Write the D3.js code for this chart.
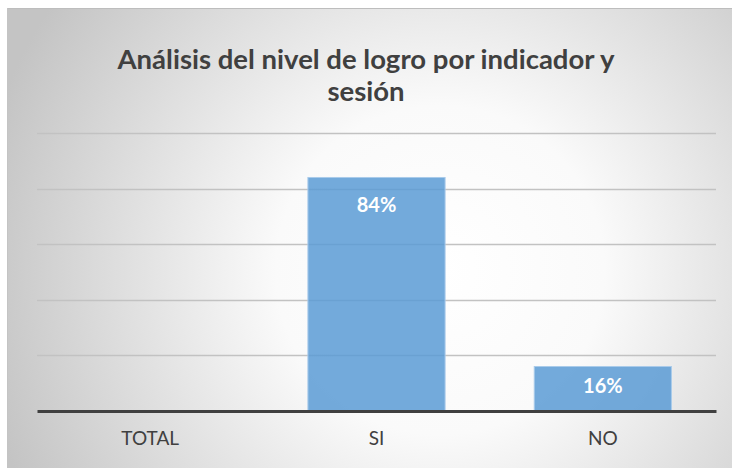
<!DOCTYPE html>
<html>
<head>
<meta charset="utf-8">
<script src="https://cdn.jsdelivr.net/npm/d3@7"></script>
<style>
  body { margin: 0; background: #fff; }
  svg { display: block; }
</style>
</head>
<body>
<script>
var titleLines = ["Análisis del nivel de logro por indicador y", "sesión"];
var categories = ["TOTAL", "SI", "NO"];
var values = [null, 0.84, 0.16];
var yTicks = [0.2, 0.4, 0.6, 0.8, 1.0];

var W = 732, H = 468;
var frame = {x: 7, y: 8};
var margin = {top: 133, right: 16, bottom: 57, left: 37};
var plotW = W - margin.left - margin.right,
    plotH = 411 - margin.top;

var svg = d3.select("body").append("svg")
    .attr("width", W)
    .attr("height", H);

var defs = svg.append("defs");
var grad = defs.append("radialGradient")
    .attr("id", "bg")
    .attr("gradientUnits", "userSpaceOnUse")
    .attr("cx", 440).attr("cy", 270).attr("r", 470);
grad.append("stop").attr("offset", "0").attr("stop-color", "#ffffff");
grad.append("stop").attr("offset", "0.35").attr("stop-color", "#fafafa");
grad.append("stop").attr("offset", "1").attr("stop-color", "#c4c4c4");

svg.append("rect")
    .attr("x", frame.x).attr("y", frame.y)
    .attr("width", W - frame.x).attr("height", H - frame.y)
    .attr("fill", "url(#bg)");
// frame edges
svg.append("line")
    .attr("x1", frame.x).attr("x2", W)
    .attr("y1", frame.y + 0.5).attr("y2", frame.y + 0.5)
    .attr("stroke", "#bdbdbd");
svg.append("line")
    .attr("x1", frame.x + 0.5).attr("x2", frame.x + 0.5)
    .attr("y1", frame.y).attr("y2", H)
    .attr("stroke", "#c4c4c4");

var g = svg.append("g")
    .attr("transform", "translate(" + margin.left + "," + margin.top + ")");

var y = d3.scaleLinear().domain([0, 1]).range([plotH, 0]);
var x = d3.scaleBand().domain(categories).range([0, plotW])
    .paddingInner(0.65 / 1.65).paddingOuter(0.65 / 1.65 / 2);

// gridlines
g.selectAll("line.grid")
    .data(yTicks)
  .enter().append("line")
    .attr("class", "grid")
    .attr("x1", 0).attr("x2", plotW)
    .attr("y1", function(d) { return Math.round(y(d)) + 0.5; })
    .attr("y2", function(d) { return Math.round(y(d)) + 0.5; })
    .attr("stroke", "#c2c2c2")
    .attr("stroke-width", 1.3);

var barData = categories.map(function(c, i) { return {cat: c, v: values[i]}; })
    .filter(function(d) { return d.v != null; });

g.selectAll("rect.bar")
    .data(barData)
  .enter().append("rect")
    .attr("class", "bar")
    .attr("x", function(d) { return x(d.cat); })
    .attr("width", x.bandwidth())
    .attr("y", function(d) { return y(d.v); })
    .attr("height", function(d) { return plotH - y(d.v); })
    .attr("fill", "#5b9bd5")
    .attr("fill-opacity", 0.85)
    .attr("stroke", "#a9cbea")
    .attr("stroke-width", 1);

g.selectAll("text.lbl")
    .data(barData)
  .enter().append("text")
    .attr("class", "lbl")
    .attr("x", function(d) { return x(d.cat) + x.bandwidth() / 2; })
    .attr("y", function(d) { return y(d.v) + Math.min(35, (plotH - y(d.v)) * 0.6); })
    .attr("text-anchor", "middle")
    .attr("font-family", "Lato, 'Open Sans', sans-serif")
    .attr("font-weight", "bold")
    .attr("font-size", 20)
    .attr("fill", "#ffffff")
    .text(function(d) { return Math.round(d.v * 100) + "%"; });

// x axis
var xAxis = g.append("g")
    .attr("transform", "translate(0," + plotH + ")")
    .call(d3.axisBottom(x).tickSize(0).tickPadding(21));
xAxis.select(".domain")
    .attr("stroke", "#404040")
    .attr("stroke-width", 3);
xAxis.selectAll("text")
    .attr("font-family", "Lato, 'Open Sans', sans-serif")
    .attr("font-size", 19)
    .attr("fill", "#404040");

// title
var title = svg.append("g");
title.selectAll("text")
    .data(titleLines)
  .enter().append("text")
    .attr("x", 366)
    .attr("y", function(d, i) { return 69 + i * 32; })
    .attr("text-anchor", "middle")
    .attr("font-family", "Lato, 'Open Sans', sans-serif")
    .attr("font-weight", "bold")
    .attr("font-size", 26)
    .attr("fill", "#404040")
    .text(function(d) { return d; });
var first = title.select("text").node();
var ratio = 497 / first.getComputedTextLength();
title.selectAll("text").each(function() {
  var t = d3.select(this);
  t.attr("textLength", this.getComputedTextLength() * ratio)
   .attr("lengthAdjust", "spacingAndGlyphs");
});
</script>
</body>
</html>
